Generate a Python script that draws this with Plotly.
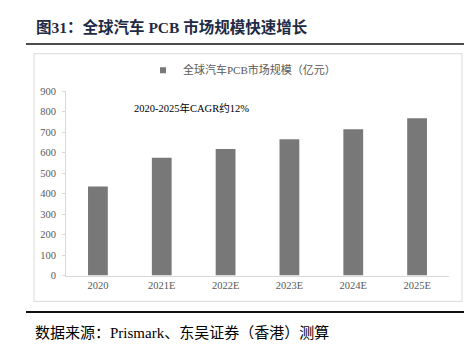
import plotly.graph_objects as go

categories = ["2020", "2021E", "2022E", "2023E", "2024E", "2025E"]
values = [435, 575, 617, 665, 713, 767]
series_name = "全球汽车PCB市场规模（亿元）"
y_ticks = [0, 100, 200, 300, 400, 500, 600, 700, 800, 900]

W, H = 472, 355
def px(x): return x / W
def py(y): return 1 - y / H

serif = "Liberation Serif, Noto Sans CJK SC"
bar_color = "#787878"

fig = go.Figure()
fig.add_trace(go.Bar(
    x=categories, y=values, name=series_name,
    marker=dict(color=bar_color, line=dict(width=0)),
    width=0.31, showlegend=False,
))
# legend entry with a small square marker like the original
fig.add_trace(go.Scatter(
    x=[None], y=[None], mode="markers", name=series_name,
    marker=dict(symbol="square", size=6, color=bar_color),
    showlegend=True,
))

fig.update_layout(
    width=W, height=H,
    margin=dict(l=0, r=0, t=0, b=0),
    paper_bgcolor="white", plot_bgcolor="white",
    showlegend=True,
    legend=dict(
        orientation="h", x=px(135), y=py(59), xanchor="left", yanchor="middle",
        font=dict(family=serif, size=11, color="#595959"),
        itemwidth=30, bgcolor="rgba(0,0,0,0)",
    ),
    xaxis=dict(
        domain=[px(58), px(441)],
        showline=True, linecolor="#d9d9d9", linewidth=1,
        ticks="", showgrid=False,
        tickfont=dict(family=serif, size=10.5, color="#595959"),
    ),
    yaxis=dict(
        domain=[py(271), py(80.5)],
        range=[0, 900], tickvals=y_ticks,
        showline=True, linecolor="#d9d9d9", linewidth=1,
        ticks="outside", ticklen=3, tickcolor="#d9d9d9",
        ticklabelstandoff=4,
        showgrid=False, zeroline=False,
        tickfont=dict(family=serif, size=10.5, color="#595959"),
    ),
    shapes=[
        dict(type="rect", xref="paper", yref="paper",
             x0=px(26), x1=px(454), y0=py(297.5), y1=py(42),
             line=dict(color="#d9d9d9", width=1), fillcolor="rgba(0,0,0,0)"),
        dict(type="line", xref="paper", yref="paper",
             x0=px(18), x1=px(463), y0=py(32), y1=py(32),
             line=dict(color="#111111", width=1.5)),
        dict(type="line", xref="paper", yref="paper",
             x0=px(18), x1=px(463), y0=py(308.5), y1=py(308.5),
             line=dict(color="#111111", width=2)),
    ],
    annotations=[
        dict(text="<b>图31：全球汽车 PCB 市场规模快速增长</b>",
             xref="paper", yref="paper", x=px(26), y=py(14),
             xanchor="left", yanchor="middle", showarrow=False,
             font=dict(family=serif, size=15.5, color="#1F2A44")),
        dict(text="2020-2025年CAGR约12%",
             xref="paper", yref="paper", x=px(124), y=py(98),
             xanchor="left", yanchor="middle", showarrow=False,
             font=dict(family=serif, size=10.5, color="#000000")),
        dict(text="数据来源：Prismark、东吴证券（香港）测算",
             xref="paper", yref="paper", x=px(25), y=py(330),
             xanchor="left", yanchor="middle", showarrow=False,
             font=dict(family=serif, size=15, color="#000000")),
    ],
)

fig.write_html("out.html")
